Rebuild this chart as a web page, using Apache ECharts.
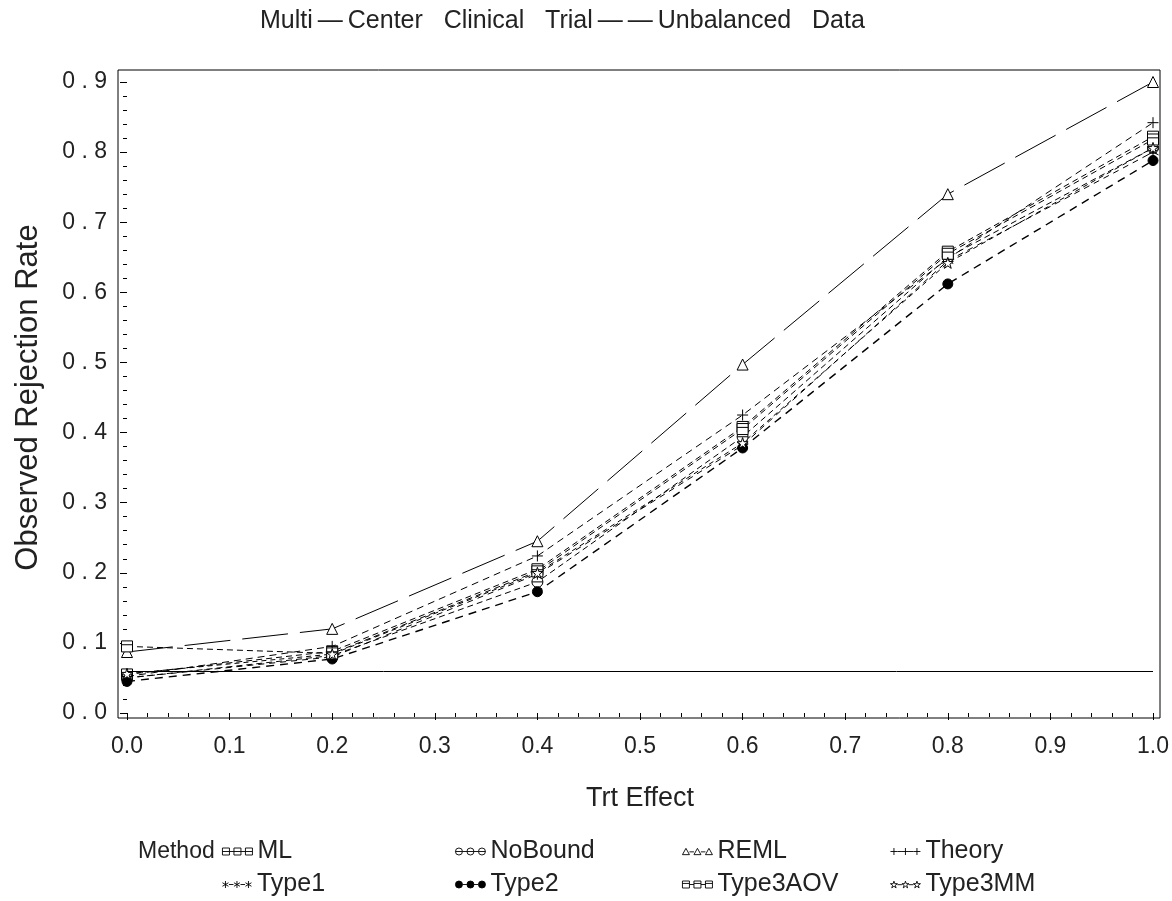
<!DOCTYPE html>
<html>
<head>
<meta charset="utf-8">
<title>Multi-Center Clinical Trial -- Unbalanced Data</title>
<script src="https://cdn.jsdelivr.net/npm/echarts@6/dist/echarts.min.js"></script>
<style>
  html, body { margin: 0; padding: 0; background: #fff; }
  #chart { width: 1172px; height: 901px; }
</style>
</head>
<body>
<div id="chart"></div>
<script>
// data
var trtEffect = [0, 0.2, 0.4, 0.6, 0.8, 1.0];
var ml       = [0.055, 0.088, 0.205, 0.408, 0.658, 0.822];
var noBound  = [0.050, 0.082, 0.187, 0.394, 0.650, 0.806];
var reml     = [0.087, 0.120, 0.245, 0.497, 0.740, 0.900];
var theory   = [0.052, 0.095, 0.224, 0.425, 0.648, 0.842];
var type1    = [0.050, 0.080, 0.198, 0.382, 0.645, 0.800];
var type2    = [0.045, 0.077, 0.173, 0.378, 0.612, 0.788];
var type3aov = [0.095, 0.085, 0.202, 0.405, 0.655, 0.818];
var type3mm  = [0.056, 0.084, 0.200, 0.385, 0.642, 0.806];
var nominalLevel = 0.058;

var methods = ["ML", "NoBound", "REML", "Theory", "Type1", "Type2", "Type3AOV", "Type3MM"];
var methodValues = [ml, noBound, reml, theory, type1, type2, type3aov, type3mm];

(function () {
  var myChart = echarts.init(document.getElementById("chart"));
  var font = "Liberation Sans";

  // symbol outlines on a 10x10 box, as path strings shifted by (x, y) and scaled by k
  var shapes = {
    ML: function (x, y, k) {
      return "M" + x + "," + y + "L" + (x + 10 * k) + "," + y + "L" + (x + 10 * k) + "," + (y + 10 * k) +
        "L" + x + "," + (y + 10 * k) + "Z M" + x + "," + (y + 5 * k) + "L" + (x + 10 * k) + "," + (y + 5 * k);
    },
    NoBound: function (x, y, k) {
      var r = 5 * k;
      return "M" + x + "," + (y + r) + "A" + r + "," + r + " 0 1 1 " + (x + 2 * r) + "," + (y + r) +
        "A" + r + "," + r + " 0 1 1 " + x + "," + (y + r) + "Z M" + x + "," + (y + r) + "L" + (x + 2 * r) + "," + (y + r);
    },
    REML: function (x, y, k) {
      return "M" + (x + 5 * k) + "," + y + "L" + (x + 10 * k) + "," + (y + 9 * k) + "L" + x + "," + (y + 9 * k) + "Z";
    },
    Theory: function (x, y, k) {
      return "M" + (x + 5 * k) + "," + y + "L" + (x + 5 * k) + "," + (y + 10 * k) +
        "M" + x + "," + (y + 5 * k) + "L" + (x + 10 * k) + "," + (y + 5 * k);
    },
    Type1: function (x, y, k) {
      return "M" + (x + 5 * k) + "," + y + "L" + (x + 5 * k) + "," + (y + 10 * k) +
        "M" + (x + 0.7 * k) + "," + (y + 2.5 * k) + "L" + (x + 9.3 * k) + "," + (y + 7.5 * k) +
        "M" + (x + 9.3 * k) + "," + (y + 2.5 * k) + "L" + (x + 0.7 * k) + "," + (y + 7.5 * k);
    },
    Type2: function (x, y, k) {
      var r = 5 * k;
      return "M" + x + "," + (y + r) + "A" + r + "," + r + " 0 1 1 " + (x + 2 * r) + "," + (y + r) +
        "A" + r + "," + r + " 0 1 1 " + x + "," + (y + r) + "Z";
    },
    Type3AOV: function (x, y, k) {
      return "M" + x + "," + y + "L" + (x + 10 * k) + "," + y + "L" + (x + 10 * k) + "," + (y + 10 * k) +
        "L" + x + "," + (y + 10 * k) + "Z M" + x + "," + (y + 3.5 * k) + "L" + (x + 10 * k) + "," + (y + 3.5 * k);
    },
    Type3MM: function (x, y, k) {
      var p = [[5, 0], [6.2, 3.6], [10, 3.6], [6.9, 5.9], [8.1, 9.5], [5, 7.3], [1.9, 9.5], [3.1, 5.9], [0, 3.6], [3.8, 3.6]];
      return p.map(function (q, i) {
        return (i ? "L" : "M") + (x + q[0] * k) + "," + (y + q[1] * k);
      }).join("") + "Z";
    }
  };
  var dashes = {
    ML: [6, 4], NoBound: [6, 4], REML: [46, 12], Theory: [7, 5],
    Type1: [6, 5], Type2: [8, 6], Type3AOV: [6, 4], Type3MM: [5, 4]
  };

  // legend icon: three small symbols joined by a line, like the SAS legend
  function legendIcon(name) {
    var k = 0.7, w = 7, gap = 4.5;
    var d = "";
    for (var j = 0; j < 3; j++) {
      var x0 = j * (w + gap);
      d += shapes[name](x0, 0, k) + " ";
      if (j < 2) d += "M" + (x0 + w) + ",3.5L" + (x0 + w + gap) + ",3.5 ";
    }
    return "path://" + d;
  }

  var series = methods.map(function (name, i) {
    var s = {
      name: name,
      type: "line",
      data: trtEffect.map(function (x, j) { return [x, methodValues[i][j]]; }),
      symbol: "path://" + shapes[name](0, 0, 1),
      symbolSize: name === "Type2" ? 10 : 11,
      itemStyle: {
        color: name === "Type2" ? "#000" : "#fff",
        borderColor: "#000",
        borderWidth: 1
      },
      lineStyle: { color: "#000", width: name === "Type2" ? 1.4 : 1, type: dashes[name] },
      emphasis: { disabled: true }
    };
    if (i === 0) {
      // nominal level line
      s.markLine = {
        silent: true,
        symbol: "none",
        label: { show: false },
        lineStyle: { type: "solid", color: "#000", width: 1 },
        data: [{ yAxis: nominalLevel }]
      };
    }
    return s;
  });

  // legend laid out in a 4 x 2 block like the original
  var legendCols = [217, 450, 677, 885];
  var legendRows = [834, 867];
  var legends = methods.map(function (name, i) {
    return {
      data: [{ name: name, icon: legendIcon(name) }],
      left: legendCols[i % 4],
      top: legendRows[Math.floor(i / 4)],
      itemWidth: 30,
      itemHeight: 7,
      selectedMode: false,
      itemStyle: { borderWidth: 0.9 },
      textStyle: { fontFamily: font, fontSize: 25, color: "#222", padding: [0, 0, 0, 0] }
    };
  });

  var thin = "\u2009";
  var option = {
    animation: false,
    backgroundColor: "#fff",
    title: {
      text: "Multi" + thin + "\u2014" + thin + "Center   Clinical   Trial" + thin + "\u2014" + thin +
        "\u2014" + thin + "Unbalanced   Data",
      left: 255,
      top: 4,
      textStyle: { fontFamily: font, fontSize: 25, fontWeight: "normal", color: "#222" }
    },
    legend: legends,
    grid: { left: 127, right: 17, top: 82, bottom: 188 },
    xAxis: {
      type: "value",
      min: 0,
      max: 1,
      interval: 0.1,
      offset: 5,
      name: "Trt Effect",
      nameLocation: "middle",
      nameGap: 67,
      nameTextStyle: { fontFamily: font, fontSize: 27, color: "#222" },
      axisLine: { show: false },
      axisTick: { show: true, length: 7, lineStyle: { color: "#000" } },
      minorTick: { show: true, splitNumber: 5, length: 4, lineStyle: { color: "#000" } },
      splitLine: { show: false },
      axisLabel: {
        margin: 17,
        fontFamily: font,
        fontSize: 23,
        color: "#222",
        formatter: function (v) { return v.toFixed(1); }
      }
    },
    yAxis: {
      type: "value",
      min: 0,
      max: 0.9,
      interval: 0.1,
      offset: 9,
      name: "Observed Rejection Rate",
      nameLocation: "middle",
      nameGap: 74,
      nameTextStyle: { fontFamily: font, fontSize: 31, color: "#222" },
      axisLine: { show: false },
      axisTick: { show: true, length: 7, lineStyle: { color: "#000" } },
      minorTick: { show: true, splitNumber: 5, length: 4, lineStyle: { color: "#000" } },
      splitLine: { show: false },
      axisLabel: {
        margin: 11,
        fontFamily: font,
        fontSize: 23,
        color: "#222",
        formatter: function (v) { return v.toFixed(1).replace(".", " . "); }
      }
    },
    graphic: [
      {
        // plot frame
        type: "rect",
        shape: { x: 118, y: 70, width: 1042, height: 648 },
        style: { fill: "none", stroke: "#000", lineWidth: 1 },
        silent: true
      },
      {
        type: "text",
        left: 138,
        top: 840,
        style: { text: "Method", font: "23px " + font, fill: "#222" }
      }
    ],
    series: series
  };

  myChart.setOption(option);
  window.addEventListener("resize", function () {
    myChart.resize();
  });
})();
</script>
</body>
</html>
